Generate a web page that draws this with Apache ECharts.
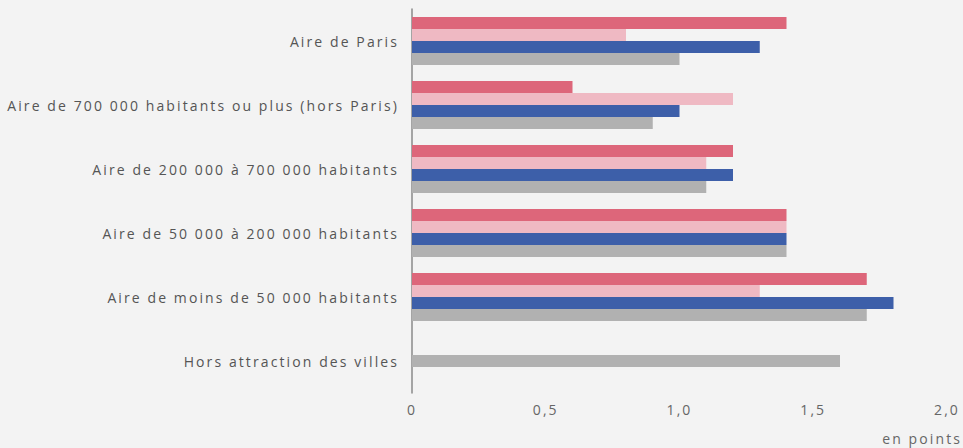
<!DOCTYPE html>
<html>
<head>
<meta charset="utf-8">
<script src="https://cdn.jsdelivr.net/npm/echarts@6/dist/echarts.min.js"></script>
<style>
  html, body { margin: 0; padding: 0; background: #f3f3f3; }
  #container { width: 963px; height: 448px; }
  /* le texte de l'original est nettement espacé */
  #container text { letter-spacing: 2.1px; }
</style>
</head>
<body>
<div id="container"></div>
<script>
// catégories (de haut en bas)
var categories = [
  'Aire de Paris',
  'Aire de 700 000 habitants ou plus (hors Paris)',
  'Aire de 200 000 à 700 000 habitants',
  'Aire de 50 000 à 200 000 habitants',
  'Aire de moins de 50 000 habitants',
  'Hors attraction des villes'
]
var serieRouge = [1.4, 0.6, 1.2, 1.4, 1.7, null]
var serieRose = [0.8, 1.2, 1.1, 1.4, 1.3, null]
var serieBleue = [1.3, 1.0, 1.2, 1.4, 1.8, null]
var serieGrise = [1.0, 0.9, 1.1, 1.4, 1.7, 1.6]
var xTicks = [0, 0.5, 1.0, 1.5, 2.0]

var fontFamily = '"Open Sans", "Noto Sans", sans-serif'

// la dernière catégorie n'a qu'une barre, centrée : on la place sur un 2e axe
var lastIdx = categories.length - 1
var griseGroupes = serieGrise.map(function(v, i) { return i === lastIdx ? null : v })
var griseHors = serieGrise.map(function(v, i) { return i === lastIdx ? v : null })

var chartDom = document.getElementById('container')
var myChart = echarts.init(chartDom, null, { renderer: 'svg' })

function barSerie(name, data, color, axisIdx) {
  return {
    name: name,
    type: 'bar',
    yAxisIndex: axisIdx,
    barGap: '0%',
    barCategoryGap: '25%',
    barWidth: 12,
    itemStyle: { color: color },
    data: data
  }
}

var option = {
  backgroundColor: '#f3f3f3',
  animation: false,
  grid: {
    left: 412,
    right: 16,
    top: 9,
    bottom: 55,
    containLabel: false
  },
  xAxis: {
    type: 'value',
    min: 0,
    max: xTicks[xTicks.length - 1],
    interval: 0.5,
    splitLine: { show: false },
    axisLine: { show: false },
    axisTick: { show: false },
    axisLabel: {
      color: '#666',
      fontSize: 14,
      fontFamily: fontFamily,
      margin: 9,
      formatter: function(v) {
        return v === 0 ? '0' : v.toFixed(1).replace('.', ',')
      }
    }
  },
  yAxis: [
    {
      type: 'category',
      data: categories,
      inverse: true,
      axisLine: { show: true, lineStyle: { color: '#8a8a8a', width: 1.5 } },
      axisTick: { show: false },
      axisLabel: {
        color: '#555',
        fontSize: 14,
        fontFamily: fontFamily,
        margin: 13,
        padding: [0, 0, 3, 0]
      }
    },
    {
      type: 'category',
      data: categories,
      inverse: true,
      position: 'left',
      show: false
    }
  ],
  series: [
    barSerie('Série 1', serieRouge, '#dd667a', 0),
    barSerie('Série 2', serieRose, '#efb9c3', 0),
    barSerie('Série 3', serieBleue, '#3d5fa9', 0),
    barSerie('Série 4', griseGroupes, '#b1b1b1', 0),
    barSerie('Série 4 (hors)', griseHors, '#b1b1b1', 1)
  ],
  graphic: [
    {
      type: 'text',
      x: 962,
      y: 438,
      style: {
        text: 'en points',
        fill: '#666',
        fontSize: 14,
        fontFamily: fontFamily,
        align: 'right',
        verticalAlign: 'middle'
      }
    }
  ]
}

option && myChart.setOption(option)
window.addEventListener('resize', function() {
  myChart.resize()
})
</script>
</body>
</html>
